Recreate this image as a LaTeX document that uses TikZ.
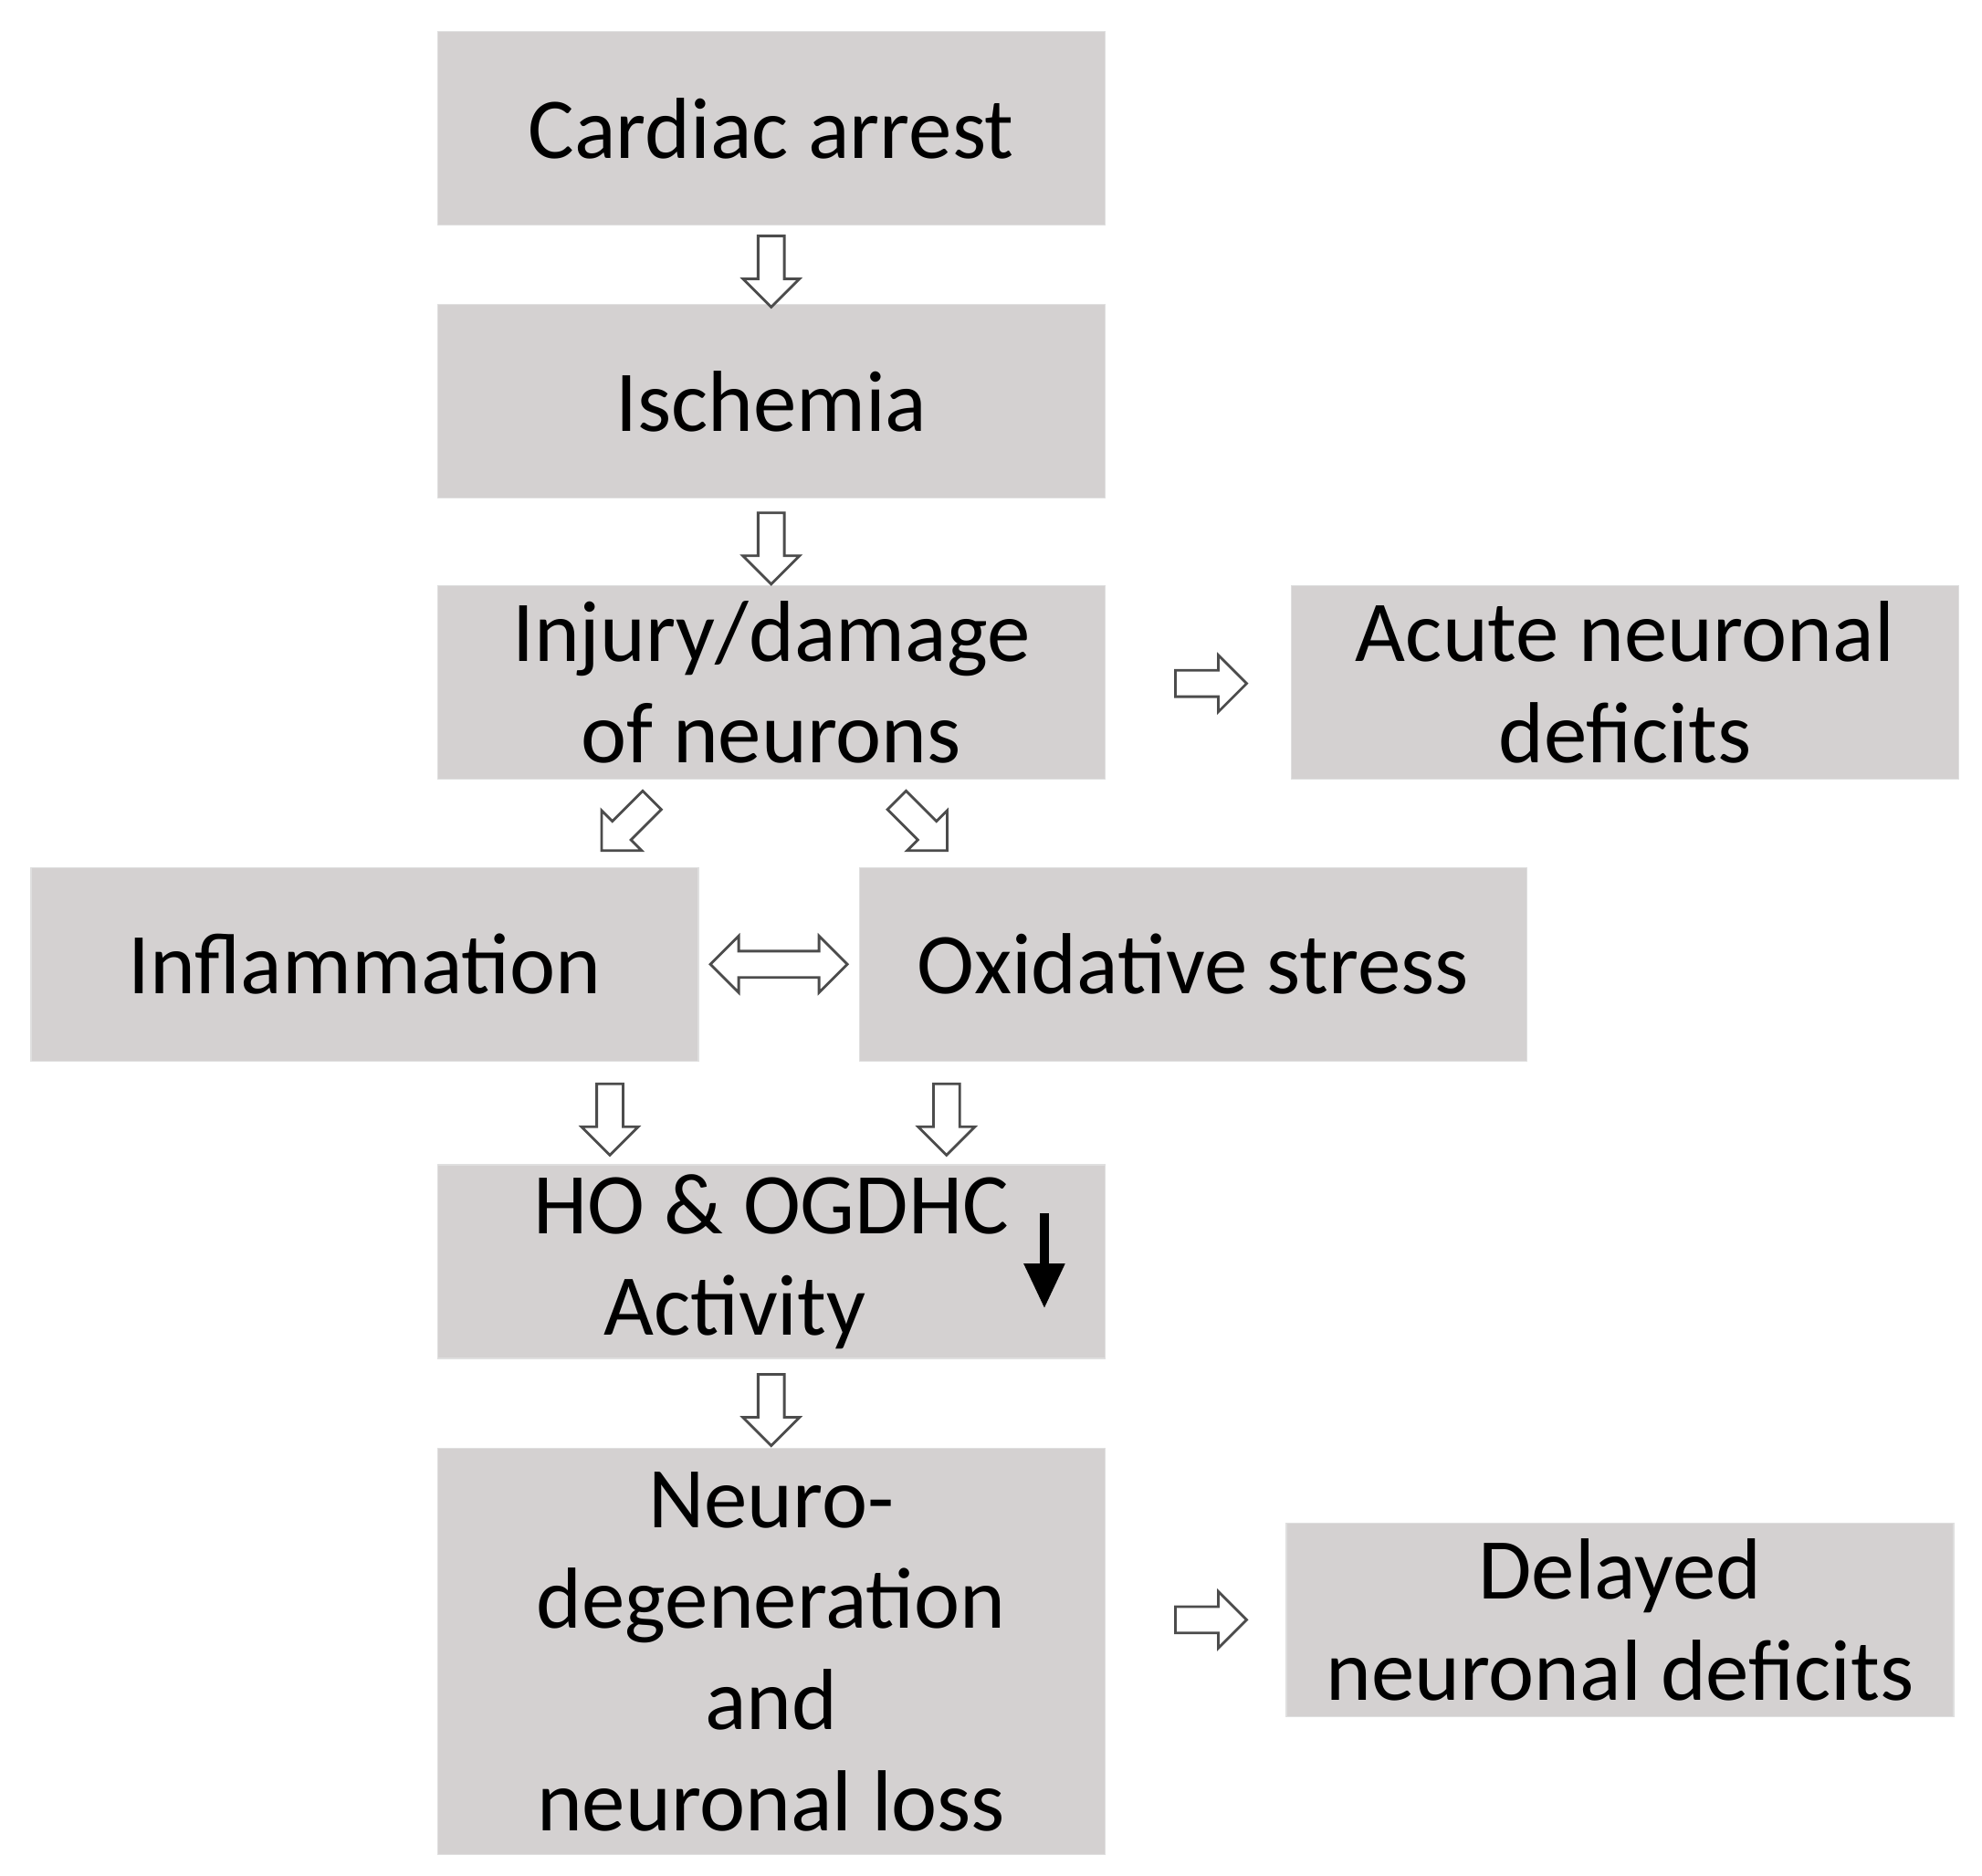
\documentclass[tikz,border=0pt]{standalone}
\usepackage{fontspec}
\setmainfont{Carlito}
\usetikzlibrary{shapes.arrows,arrows.meta,calc}

\tikzset{
  box/.style={draw=gray!25,fill=boxgray,minimum width=7.31cm,minimum height=2.12cm,
    align=center,inner sep=2pt,font=\fontsize{27}{31.5}\selectfont},
  blk/.style={single arrow,draw=black!70,fill=white,line width=0.8pt,inner sep=0.09cm,
    minimum height=0.78cm,minimum width=0.62cm,single arrow head extend=0.12cm},
  dblk/.style={double arrow,draw=black!70,fill=white,line width=0.8pt,inner sep=0.09cm,
    minimum height=1.5cm,minimum width=0.62cm,double arrow head extend=0.12cm},
}
\definecolor{boxgray}{HTML}{D4D1D1}

\begin{document}
\begin{tikzpicture}[x=0.01392cm,y=-0.01392cm]
   \useasboundingbox (0,0) rectangle (1560,1476);
   % main column
   \node[box] (cardiac)  at (607,101)  {Cardiac arrest};
   \node[box] (ischemia) at (607,316)  {Ischemia};
   \node[box] (injury)   at (607,537)  {Injury/damage\\of neurons};
   \node[box] (acute)    at (1279,537) {Acute neuronal\\deficits};
   \node[box] (inflam)   at (287,759)  {Inflammation};
   \node[box] (oxid)     at (939,759)  {Oxidative stress};
   \node[box] (ho)       at (607,993)  {HO \& OGDHC\\Activity\hspace*{0.8cm}};
   \node[box,minimum height=4.45cm] (neuro) at (607,1300)
        {Neuro-\\degeneration\\and\\neuronal loss};
   \node[box] (delayed)  at (1275,1275) {Delayed\\neuronal deficits};
   % block arrows
   \node[blk,rotate=-90] (a1) at ($(cardiac.south)!0.5!(ischemia.north)$) {};
   \node[blk,rotate=-90] (a2) at ($(ischemia.south)!0.5!(injury.north)$) {};
   \node[blk] (a3) at (948,538) {};
   \node[blk,rotate=225] (a4) at (497,646) {};
   \node[blk,rotate=-45] (a5) at (722,646) {};
   \node[dblk] (a6) at ($(inflam.east)!0.5!(oxid.west)$) {};
   \node[blk,rotate=-90] (a7) at (480,876) {};
   \node[blk,rotate=-90] (a8) at (745,876) {};
   \node[blk,rotate=-90] (a9) at ($(ho.south)!0.5!(neuro.north)$) {};
   \node[blk] (a10) at (948,1275) {};
   % decrease mark
   \coordinate (dtop) at (822,955);
   \coordinate (dbot) at (822,1030);
   \draw[line width=3pt,-{Triangle[width=12pt,length=14pt]}] (dtop) -- (dbot);
\end{tikzpicture}
\end{document}
